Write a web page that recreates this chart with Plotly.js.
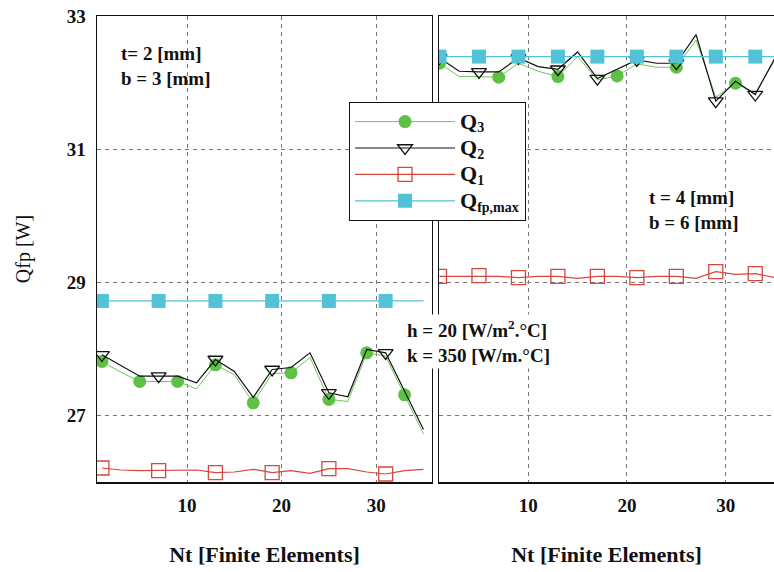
<!DOCTYPE html>
<html>
<head>
<meta charset="utf-8">
<script src="https://cdn.plot.ly/plotly-3.0.1.min.js"></script>
<style>
  html, body { margin: 0; padding: 0; background: #fff; }
  #chart { width: 774px; height: 572px; }
</style>
</head>
<body>
<div id="chart"></div>
<script>
// Number of finite elements along the fin
const nt = [1, 3, 5, 7, 9, 11, 13, 15, 17, 19, 21, 23, 25, 27, 29, 31, 33, 35];

// Case t = 2 mm, b = 3 mm
const q3Left  = [27.81, 27.65, 27.51, 27.51, 27.51, 27.40, 27.76, 27.61, 27.19, 27.63, 27.64, 27.87, 27.24, 27.21, 27.94, 27.89, 27.31, 26.72];
const q2Left  = [27.91, 27.75, 27.59, 27.59, 27.59, 27.49, 27.84, 27.66, 27.27, 27.69, 27.72, 27.94, 27.34, 27.28, 27.99, 27.94, 27.37, 26.79];
const q1Left  = [26.21, 26.18, 26.17, 26.17, 26.17, 26.18, 26.14, 26.15, 26.19, 26.14, 26.17, 26.13, 26.20, 26.20, 26.15, 26.12, 26.17, 26.19];
const qmaxLeft = [28.72, 28.72, 28.72, 28.72, 28.72, 28.72, 28.72, 28.72, 28.72, 28.72, 28.72, 28.72, 28.72, 28.72, 28.72, 28.72, 28.72, 28.72];

// Case t = 4 mm, b = 6 mm
const q3Right = [32.29, 32.09, 32.09, 32.08, 32.29, 32.17, 32.09, 32.39, 32.04, 32.10, 32.28, 32.23, 32.23, 32.64, 31.78, 31.99, 31.84, 32.34];
const q2Right = [32.37, 32.17, 32.16, 32.16, 32.37, 32.24, 32.20, 32.46, 32.06, 32.20, 32.34, 32.29, 32.29, 32.72, 31.72, 32.02, 31.82, 32.37];
const q1Right = [29.09, 29.09, 29.10, 29.09, 29.07, 29.09, 29.09, 29.06, 29.09, 29.09, 29.07, 29.09, 29.09, 29.06, 29.16, 29.12, 29.13, 29.07];
const qmaxRight = [32.39, 32.39, 32.39, 32.39, 32.39, 32.39, 32.39, 32.39, 32.39, 32.39, 32.39, 32.39, 32.39, 32.39, 32.39, 32.39, 32.39, 32.39];

const seriesSubs = ['3', '2', '1', 'fp,max'];
const xTicks = [10, 20, 30];
const yTicks = [27, 29, 31, 33];

const SERIF = '"Liberation Serif", "Times New Roman", serif';
const GREEN = '#5fc046', GREEN_LINE = '#6fc45c';
const BLACK = '#111111';
const RED = '#d8463c';
const CYAN = '#52c2d6';
const NONE = 'rgba(0,0,0,0)';

// legend label: large Q with a subscript
function seriesLabel(sub) {
  return '<span style="font-size:22px">Q</span><sub><span style="font-size:14px">' + sub + '</span></sub>';
}

// show a marker only on every `step`-th node
function markerColors(n, step, color) {
  const out = [];
  for (let i = 0; i < n; i++) out.push(i % step === 0 ? color : NONE);
  return out;
}

function trace(y, sub, style, xa, ya, step, showlegend) {
  return {
    x: nt, y: y, name: seriesLabel(sub), type: 'scatter', mode: 'lines+markers',
    xaxis: xa, yaxis: ya, showlegend: showlegend, legendgroup: sub,
    line: { color: style.line, width: style.lw },
    marker: {
      symbol: style.symbol, size: style.size,
      color: markerColors(y.length, step, style.marker),
      line: { width: style.mlw, color: markerColors(y.length, step, style.marker) }
    },
    hoverinfo: 'x+y'
  };
}

const S3 = { line: GREEN_LINE, lw: 1, symbol: 'circle', size: 13, marker: GREEN, mlw: 0 };
const S2 = { line: BLACK, lw: 1.2, symbol: 'triangle-down-open', size: 13, marker: BLACK, mlw: 1.3 };
const S1 = { line: RED, lw: 1.2, symbol: 'square-open', size: 14, marker: RED, mlw: 1.3 };
const SM = { line: CYAN, lw: 1.2, symbol: 'square', size: 14, marker: CYAN, mlw: 0 };

const data = [
  trace(q3Left, seriesSubs[0], S3, 'x', 'y', 2, true),
  trace(q2Left, seriesSubs[1], S2, 'x', 'y', 3, true),
  trace(q1Left, seriesSubs[2], S1, 'x', 'y', 3, true),
  trace(qmaxLeft, seriesSubs[3], SM, 'x', 'y', 3, true),
  trace(q3Right, seriesSubs[0], S3, 'x2', 'y2', 3, false),
  trace(q2Right, seriesSubs[1], S2, 'x2', 'y2', 2, false),
  trace(q1Right, seriesSubs[2], S1, 'x2', 'y2', 2, false),
  trace(qmaxRight, seriesSubs[3], SM, 'x2', 'y2', 2, false)
];

const tickFont = { family: SERIF, size: 19, color: '#111', weight: 700 };
const titleFont = { family: SERIF, size: 22, color: '#111', weight: 700 };
const GRID = '#777777';

function xAxis(domain, range) {
  return {
    domain: domain, range: range, tickvals: xTicks, ticks: '',
    showgrid: true, gridcolor: GRID, griddash: '4px,4px', gridwidth: 1,
    zeroline: false, showline: true, mirror: true, linecolor: '#111', linewidth: 1.5,
    tickfont: tickFont, ticklabelstandoff: 6,
    title: { text: 'Nt [Finite Elements]', font: titleFont, standoff: 31 }
  };
}
function yAxis(showLabels, anchor) {
  return {
    range: [26, 33], tickvals: yTicks, ticks: '', anchor: anchor,
    showgrid: true, gridcolor: GRID, griddash: '4px,4px', gridwidth: 1,
    zeroline: false, showline: true, mirror: true, linecolor: '#111', linewidth: 1.5,
    showticklabels: showLabels, tickfont: tickFont, ticklabelstandoff: 6
  };
}

const layout = {
  width: 774, height: 572,
  margin: { l: 97, r: 0, t: 16, b: 90 },
  paper_bgcolor: '#fff', plot_bgcolor: '#fff',
  font: { family: SERIF, color: '#111' },
  xaxis: xAxis([0, 0.4948], [0.48, 35.9]),
  xaxis2: xAxis([0.5052, 1], [0.95, 34.9]),
  yaxis: Object.assign(yAxis(true, 'x'), {
    title: { text: 'Qfp [W]', font: { family: SERIF, size: 20, color: '#111' }, standoff: 30 }
  }),
  yaxis2: Object.assign(yAxis(false, 'x2'), { matches: 'y' }),
  showlegend: true,
  legend: {
    x: 0.372, y: 0.815, xanchor: 'left', yanchor: 'top',
    bgcolor: '#fff', bordercolor: '#111', borderwidth: 1.2,
    font: { family: SERIF, size: 18, color: '#111', weight: 700 },
    itemwidth: 100, tracegroupgap: 0, traceorder: 'normal'
  },
  annotations: [
    { xref: 'paper', yref: 'paper', x: 0.033, y: 0.893, xanchor: 'left', yanchor: 'middle', align: 'left',
      showarrow: false, text: 't= 2 [mm]<br>b = 3 [mm]',
      font: { family: SERIF, size: 19, color: '#111', weight: 700 } },
    { xref: 'paper', yref: 'paper', x: 0.812, y: 0.583, xanchor: 'left', yanchor: 'middle', align: 'left',
      showarrow: false, text: 't = 4 [mm]<br>b = 6 [mm]',
      font: { family: SERIF, size: 19, color: '#111', weight: 700 } },
    { xref: 'paper', yref: 'paper', x: 0.454, y: 0.302, xanchor: 'left', yanchor: 'middle', align: 'left',
      showarrow: false, bgcolor: '#fff', borderpad: 2,
      text: 'h = 20 [W/m<sup>2</sup>.°C]<br>k = 350 [W/m.°C]',
      font: { family: SERIF, size: 19, color: '#111', weight: 700 } }
  ]
};

Plotly.newPlot('chart', data, layout, { displayModeBar: false, staticPlot: true });
</script>
</body>
</html>
